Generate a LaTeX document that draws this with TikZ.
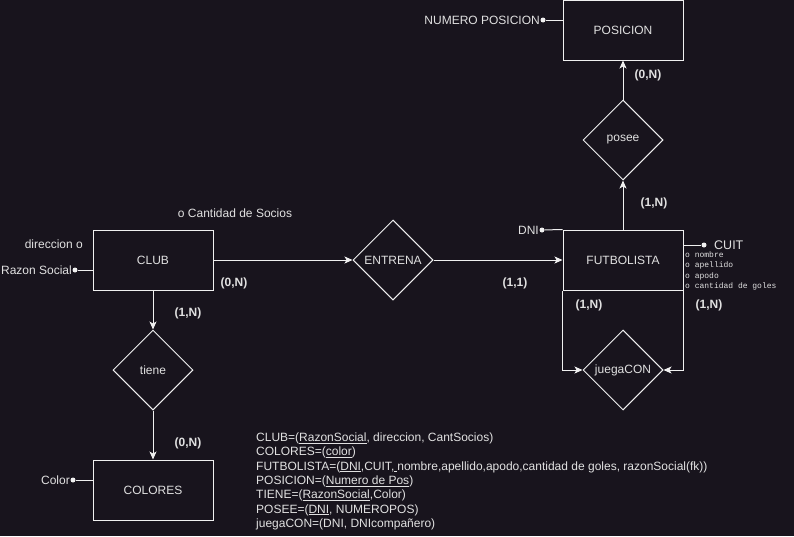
\documentclass[tikz,border=0pt]{standalone}
\usepackage{fontspec}
\setmainfont{Liberation Sans}
\newfontfamily\monofont{Liberation Mono}
\usetikzlibrary{shapes.geometric,arrows.meta}
\definecolor{bg}{RGB}{24,20,29}
\definecolor{fg}{RGB}{240,240,240}
\definecolor{tx}{RGB}{225,225,225}
\tikzset{
  entity/.style={draw=fg, line width=1pt, minimum width=120pt, minimum height=60pt, inner sep=0pt, text=tx, font=\fontsize{12}{14}\selectfont},
  rel/.style={diamond, draw=fg, line width=1pt, minimum width=80pt, minimum height=80pt, aspect=1, inner sep=0pt, text=tx, font=\fontsize{12}{14}\selectfont},
  arr/.style={draw=fg, line width=1pt, -{Stealth[length=8pt,width=7pt,inset=2pt]}},
  ln/.style={draw=fg, line width=1pt},
  attr/.style={text=tx, inner sep=0pt, font=\fontsize{12}{14}\selectfont},
  card/.style={text=tx, inner sep=0pt, font=\fontsize{12}{14}\selectfont\bfseries},
  dotc/.style={fill=fg, circle, inner sep=0pt, minimum size=5pt},
  mono/.style={text=tx, inner sep=0pt, anchor=west, font=\fontsize{8}{10}\monofont}
}
\begin{document}
\begin{tikzpicture}[x=1pt,y=-1pt]
\fill[bg] (0,0) rectangle (794,536);
\useasboundingbox (0,0) rectangle (794,536);

% entities
\node[entity] (club) at (153,260) {CLUB};
\node[entity] (colores) at (153,490) {COLORES};
\node[entity] (futb) at (623,260) {FUTBOLISTA};
\node[entity] (pos) at (623,30) {POSICION};
% relations
\node[rel] (tiene) at (153,370) {tiene};
\node[rel] (entrena) at (393,260) {ENTRENA};
\node[rel] (posee) at (623,140) {posee};
\node[rel] (juega) at (623,370) {juegaCON};

% connectors
\draw[arr] (club.south) -- (tiene.north);
\draw[arr] (tiene.south) -- (colores.north);
\draw[arr] (club.east) -- (entrena.west);
\draw[arr] (entrena.east) -- (futb.west);
\draw[arr] (futb.north) -- (posee.south);
\draw[arr] (posee.north) -- (pos.south);
\draw[arr] (futb.south west) |- (juega.west);
\draw[arr] (futb.south east) |- (juega.east);

% attributes
\node[attr, anchor=east] (rs) at (72,270) {Razon Social};
\node[dotc] (rsd) at (75,270) {};
\draw[ln] (rsd) -- (club.west |- rsd);
\node[attr, anchor=east] (dir) at (83,244) {direccion o};
\node[attr] (cant) at (235,213) {o Cantidad de Socios};
\node[attr, anchor=east] (col) at (70,480) {Color};
\node[dotc] (cold) at (73,480) {};
\draw[ln] (cold) -- (colores.west |- cold);
\node[attr, anchor=east] (dni) at (539,230) {DNI};
\node[dotc] (dnid) at (542,230) {};
\draw[ln] (dnid) -- (futb.north west);
\node[attr, anchor=east] (np) at (540,20) {NUMERO POSICION};
\node[dotc] (npd) at (543,20) {};
\draw[ln] (npd) -- (pos.west |- npd);
\node[dotc] (cuitd) at (704,245) {};
\node[attr, anchor=west, font=\fontsize{12.5}{14}\selectfont] (cuit) at (714,245) {CUIT};
\draw[ln] (futb.east |- cuitd) -- (cuitd);
\node[mono] (m1) at (685,255) {o nombre};
\node[mono] (m2) at (685,265.5) {o apellido};
\node[mono] (m3) at (685,276) {o apodo};
\node[mono] (m4) at (685,286.5) {o cantidad de goles};

% cardinalities
\node[card] (c1) at (234,283) {(0,N)};
\node[card] (c2) at (188,313) {(1,N)};
\node[card] (c3) at (188,443) {(0,N)};
\node[card] (c4) at (515,283) {(1,1)};
\node[card] (c5) at (589,305) {(1,N)};
\node[card] (c6) at (709,305) {(1,N)};
\node[card] (c7) at (654,203) {(1,N)};
\node[card] (c8) at (648,75) {(0,N)};

% relational schema
\node[text=tx, inner sep=0pt, anchor=north west, align=left, font=\fontsize{12}{14.33}\selectfont] (schema) at (256,432.5) {%
CLUB=(\underline{RazonSocial}, direccion, CantSocios)\\
COLORES=(\underline{color})\\
FUTBOLISTA=(\underline{DNI},CUIT,\underline{\hspace{3pt}}nombre,apellido,apodo,cantidad de goles, razonSocial(fk))\\
POSICION=(\underline{Numero de Pos})\\
TIENE=(\underline{RazonSocial},Color)\\
POSEE=(\underline{DNI}, NUMEROPOS)\\
juegaCON=(DNI, DNIcompañero)};
\end{tikzpicture}
\end{document}
